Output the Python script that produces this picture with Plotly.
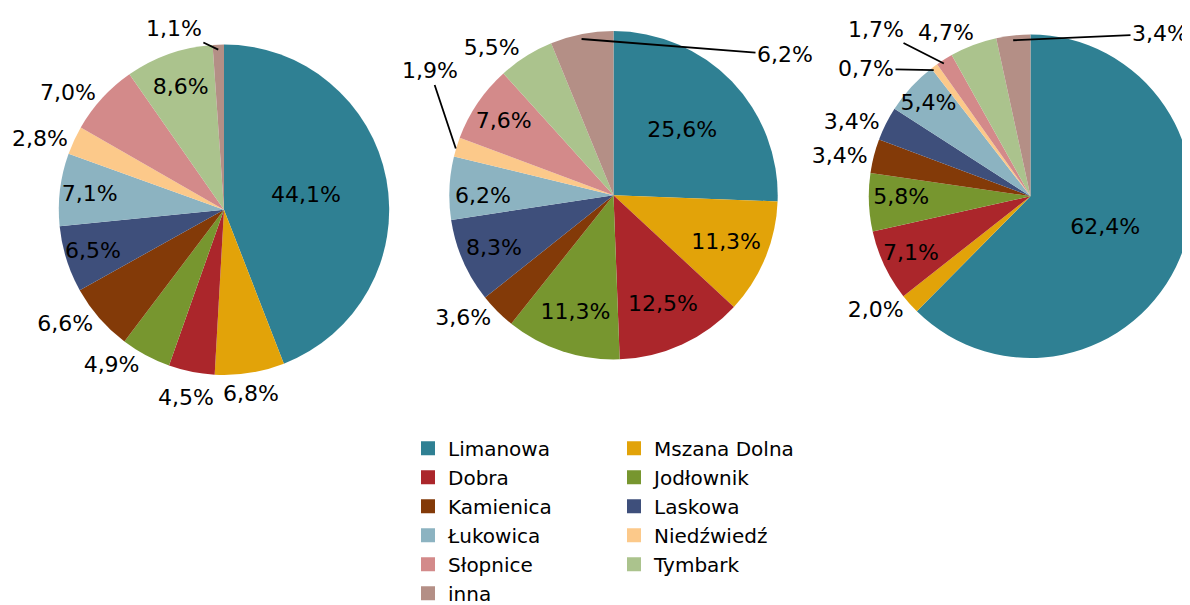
import math
import plotly.graph_objects as go

categories = ["Limanowa", "Mszana Dolna", "Dobra", "Jodłownik", "Kamienica", "Laskowa",
              "Łukowica", "Niedźwiedź", "Słopnice", "Tymbark", "inna"]
colors = ["#2F8093", "#E2A309", "#AB262B", "#77962F", "#833A08", "#3E4F7B",
          "#8CB3C1", "#FCC98A", "#D38A8A", "#ABC38D", "#B48F86"]

pie1_values = [44.1, 6.8, 4.5, 4.9, 6.6, 6.5, 7.1, 2.8, 7.0, 8.6, 1.1]
pie2_values = [25.6, 11.3, 12.5, 11.3, 3.6, 8.3, 6.2, 1.9, 7.6, 5.5, 6.2]
pie3_values = [62.4, 2.0, 7.1, 5.8, 3.4, 3.4, 5.4, 0.7, 1.7, 4.7, 3.4]

# "a" = label drawn as a separate callout (annotation), like the reference
pie1_textpos = ["inside", "a", "a", "outside", "outside", "inside",
                "inside", "outside", "outside", "inside", "a"]
pie2_textpos = ["inside", "inside", "inside", "inside", "outside", "inside",
                "inside", "a", "inside", "outside", "a"]
pie3_textpos = ["inside", "outside", "inside", "inside", "outside", "outside",
                "inside", "a", "a", "a", "a"]

# callout label placement (screen px of label centre) and whether a leader line is drawn
callouts = {
    (0, 1): (251, 399, False),
    (0, 2): (186, 403, False),
    (0, 10): (174, 22, True),
    (1, 10): (785, 48, True),
    (1, 7): (430, 68, True),
    (2, 7): (866, 63, True),
    (2, 8): (876, 23, True),
    (2, 9): (946, 25, False),
    (2, 10): (1160, 27, True),
}

legend_column = ["legend" if i % 2 == 0 else "legend2" for i in range(len(categories))]

W, H = 1190, 605
XOFF = 8          # horizontal page offset observed in the rendering
RSCALE = 0.97     # observed radius ratio
FONT = "DejaVu Sans"

# intended on-screen pie geometry (centre x, centre y, radius)
pies_screen = [(224, 209, 166), (613.5, 194, 165), (1030.5, 195, 162.5)]


def dom(cx, cy, r):
    cxi = cx - XOFF
    ri = r / RSCALE
    x0, x1 = (cxi - ri) / W, min((cxi + ri) / W, 1.0)
    return dict(x=[max(x0, 0.0), x1], y=[1 - (cy + ri) / H, 1 - (cy - ri) / H])


def fmt(v):
    return f"{v:.1f}".replace(".", ",") + "%"


array_legend = True
try:
    go.Pie(labels=categories, values=pie1_values, legend=legend_column,
           showlegend=[True] * len(categories))
except Exception:
    array_legend = False

fig = go.Figure()
annotations = []
all_values = [pie1_values, pie2_values, pie3_values]
all_pos = [pie1_textpos, pie2_textpos, pie3_textpos]
for k, (vals, tpos) in enumerate(zip(all_values, all_pos)):
    if k == 0 and array_legend:
        kw = dict(legend=legend_column, showlegend=[True] * len(categories))
    else:
        kw = dict(showlegend=False)
    fig.add_trace(go.Pie(
        labels=categories, values=vals, sort=False, direction="clockwise", rotation=0,
        marker=dict(colors=colors, line=dict(width=0)),
        texttemplate="%{value:.1f}%",
        textposition=["none" if p == "a" else p for p in tpos],
        insidetextorientation="horizontal",
        textfont=dict(family=FONT, size=22, color="black"),
        insidetextfont=dict(family=FONT, size=22, color="black"),
        outsidetextfont=dict(family=FONT, size=22, color="black"),
        domain=dom(*pies_screen[k]), hoverinfo="label+value", automargin=False,
        **kw))

    # callouts for labels positioned as in the reference
    cx, cy, r = pies_screen[k]
    total = sum(vals)
    cum = 0.0
    for i, v in enumerate(vals):
        mid = (cum + v / 2) / total * 2 * math.pi
        cum += v
        if tpos[i] != "a":
            continue
        tx, ty, line = callouts[(k, i)]
        px_, py_ = cx + r * math.sin(mid), cy - r * math.cos(mid)
        if line:
            annotations.append(dict(
                x=(px_ - XOFF) / W, y=1 - py_ / H, xref="paper", yref="paper",
                ax=tx - px_, ay=ty - py_, axref="pixel", ayref="pixel",
                text=fmt(v), showarrow=True, arrowhead=0, arrowwidth=1.8,
                arrowcolor="black", standoff=0, startstandoff=0,
                font=dict(family=FONT, size=22, color="black")))
        else:
            annotations.append(dict(
                x=(tx - XOFF) / W, y=1 - ty / H, xref="paper", yref="paper",
                xanchor="center", yanchor="middle", text=fmt(v), showarrow=False,
                font=dict(family=FONT, size=22, color="black")))

if not array_legend:
    for i, cat in enumerate(categories):
        fig.add_trace(go.Scatter(
            x=[None], y=[None], mode="markers", name=cat,
            marker=dict(symbol="square", size=14, color=colors[i]),
            legend=legend_column[i], showlegend=True))
    fig.update_xaxes(visible=False)
    fig.update_yaxes(visible=False)

leg_common = dict(orientation="v", xanchor="left", yanchor="top",
                  font=dict(family=FONT, size=20, color="black"),
                  bgcolor="rgba(0,0,0,0)", borderwidth=0, tracegroupgap=0)
fig.update_layout(
    width=W, height=H,
    margin=dict(l=0, r=0, t=0, b=0),
    paper_bgcolor="white", plot_bgcolor="white",
    separators=", ",
    font=dict(family=FONT, size=20, color="black"),
    uniformtext=dict(minsize=22, mode="show"),
    legend=dict(x=(408 - XOFF) / W, y=1 - 436 / H, **leg_common),
    legend2=dict(x=(614 - XOFF) / W, y=1 - 436 / H, **leg_common),
    annotations=annotations,
)

fig.write_html("out.html")
